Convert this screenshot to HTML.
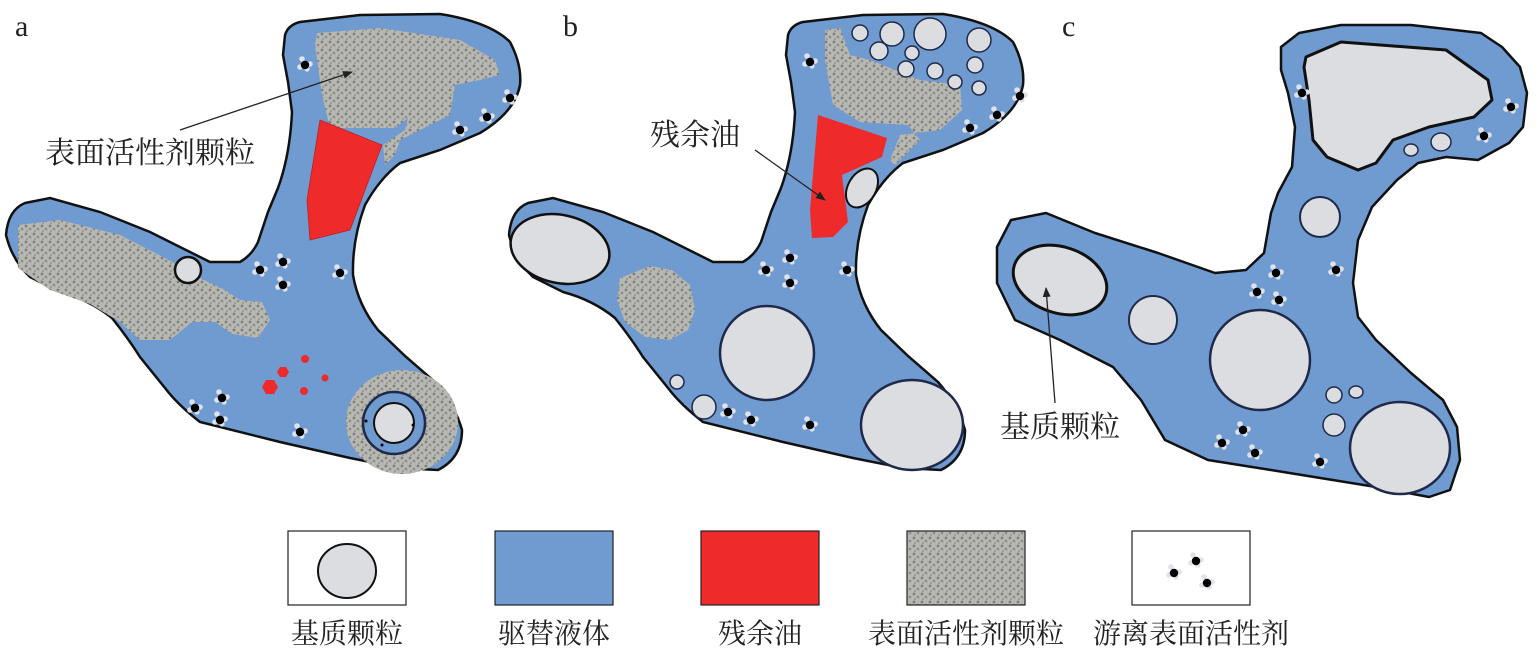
<!DOCTYPE html>
<html><head><meta charset="utf-8"><style>
html,body{margin:0;padding:0;background:#fff;}
svg{display:block;}
text{font-family:"Liberation Serif","Noto Serif CJK SC",serif;fill:#222;}
</style></head><body>
<svg width="1538" height="648" viewBox="0 0 1538 648" xmlns="http://www.w3.org/2000/svg">
<defs>
<pattern id="tex" width="8" height="8" patternUnits="userSpaceOnUse">
<rect width="8" height="8" fill="#b8b8b2"/>
<circle cx="2" cy="2" r="1.4" fill="#7d7d7c"/>
<circle cx="6" cy="5" r="1.3" fill="#8a8a88"/>
<circle cx="3" cy="7" r="0.9" fill="#8a8a88"/>
</pattern>
<path id="pore" d="M285,35 Q288,25 300,22 L360,15 440,14 Q490,22 510,42 Q522,65 520,85 Q515,112 480,133 L440,150 400,163 Q380,178 365,205 Q352,240 353,275 Q358,305 378,330 L405,356 435,382 Q455,405 462,430 Q462,458 438,470 L400,468 350,458 280,442 200,422 Q178,405 165,388 L140,357 Q128,338 112,318 Q90,300 60,292 L30,277 Q12,260 6,235 Q8,210 25,203 L50,198 100,212 150,232 210,262 240,262 Q252,255 258,242 L268,212 278,188 Q290,155 292,112 L288,82 283,55 Z"/>
<g id="fs"><circle cx="-3" cy="-6" r="2.8" fill="#dfe2ea"/><circle cx="5" cy="-1" r="2.8" fill="#dfe2ea"/><circle cx="-5" cy="2" r="2.8" fill="#dfe2ea"/><circle cx="2" cy="4" r="2.6" fill="#dfe2ea"/><circle cx="0" cy="0" r="4.2" fill="#000"/></g>
<marker id="ar" markerWidth="10" markerHeight="8" refX="9" refY="4" orient="auto" markerUnits="userSpaceOnUse"><path d="M0,0 L10,4 L0,8 Z" fill="#222"/></marker>
</defs>

<!-- Panel a -->
<use href="#pore" fill="#6f9bd1" stroke="#111" stroke-width="2.5"/>
<path d="M317,33 L380,28 460,40 495,60 500,75 480,80 455,85 450,115 420,130 400,140 395,155 385,165 383,145 405,130 408,118 395,128 330,128 322,95 315,45 Z" fill="url(#tex)"/>
<path d="M320,120 L382,145 350,230 310,240 307,200 Z" fill="#ee2a2a" stroke="#b22" stroke-width="0.8"/>
<path d="M18,225 L60,220 120,235 165,258 200,278 225,290 240,300 262,302 270,320 258,338 232,334 215,322 192,322 170,340 140,340 120,322 90,304 50,290 18,268 Z" fill="url(#tex)"/>
<circle cx="188" cy="270" r="13" fill="#dcdde1" stroke="#111" stroke-width="2.5"/>
<polygon points="278,387 274,394 266,394 262,387 266,380 274,380" fill="#ee2a2a"/>
<polygon points="289,372 286,377 280,377 277,372 280,367 286,367" fill="#ee2a2a"/>
<circle cx="305" cy="359" r="4" fill="#ee2a2a"/><circle cx="304" cy="391" r="4" fill="#ee2a2a"/><circle cx="325" cy="378" r="3.5" fill="#ee2a2a"/>
<ellipse cx="402" cy="422" rx="56" ry="52" fill="url(#tex)"/>
<circle cx="394" cy="423" r="31" fill="#6f9bd1" stroke="#1f2a4a" stroke-width="2.5"/>
<circle cx="394" cy="423" r="20" fill="#dcdde1" stroke="#111" stroke-width="2"/>
<circle cx="366" cy="421" r="1.5" fill="#000"/><circle cx="413" cy="425" r="1.5" fill="#000"/><circle cx="382" cy="445" r="1.5" fill="#000"/>
<g><use href="#fs" x="305" y="65"/><use href="#fs" x="510" y="98"/><use href="#fs" x="487" y="117"/><use href="#fs" x="460" y="130"/><use href="#fs" x="260" y="270"/><use href="#fs" x="283" y="262"/><use href="#fs" x="283" y="285"/><use href="#fs" x="340" y="273"/><use href="#fs" x="195" y="408"/><use href="#fs" x="222" y="398"/><use href="#fs" x="220" y="420"/><use href="#fs" x="300" y="432"/></g>
<line x1="180" y1="130" x2="352" y2="72" stroke="#222" stroke-width="1.3" marker-end="url(#ar)"/>
<text x="45" y="163" font-size="30">表面活性剂颗粒</text>
<text x="15" y="36" font-size="30">a</text>

<!-- Panel b -->
<use href="#pore" x="503" fill="#6f9bd1" stroke="#111" stroke-width="2.5"/>
<path d="M825,30 L840,28 850,55 870,60 920,80 960,85 962,110 940,130 900,135 890,160 895,165 920,140 908,125 860,122 833,105 825,60 Z" fill="url(#tex)"/>
<g fill="#dcdde1" stroke="#1f2a4a" stroke-width="1.5">
<circle cx="860" cy="33" r="8"/><circle cx="892" cy="34" r="12"/><circle cx="930" cy="34" r="16"/><circle cx="979" cy="40" r="12"/><circle cx="879" cy="51" r="9"/><circle cx="912" cy="53" r="7"/><circle cx="906" cy="69" r="8"/><circle cx="935" cy="71" r="8"/><circle cx="955" cy="82" r="7"/><circle cx="975" cy="65" r="8"/><circle cx="979" cy="88" r="7"/>
</g>
<path d="M818,115 L887,138 882,157 842,175 848,222 833,237 812,238 810,210 Z" fill="#ee2a2a"/>
<ellipse cx="862" cy="188" rx="14" ry="21" transform="rotate(30 862 188)" fill="#dcdde1" stroke="#111" stroke-width="2"/>
<ellipse cx="560" cy="249" rx="50" ry="34" transform="rotate(12 560 249)" fill="#dcdde1" stroke="#111" stroke-width="2.5"/>
<path d="M620,278 L650,266 672,270 690,285 695,310 688,330 670,340 645,337 625,322 617,300 Z" fill="url(#tex)"/>
<circle cx="767" cy="353" r="47" fill="#dcdde1" stroke="#1f2a4a" stroke-width="2.5"/>
<ellipse cx="912" cy="425" rx="51" ry="45" fill="#dcdde1" stroke="#1f2a4a" stroke-width="2.5"/>
<circle cx="677" cy="382" r="7" fill="#dcdde1" stroke="#1f2a4a" stroke-width="1.5"/>
<circle cx="704" cy="407" r="12" fill="#dcdde1" stroke="#1f2a4a" stroke-width="1.5"/>
<g><use href="#fs" x="810" y="62"/><use href="#fs" x="1020" y="96"/><use href="#fs" x="997" y="115"/><use href="#fs" x="970" y="128"/><use href="#fs" x="766" y="270"/><use href="#fs" x="790" y="258"/><use href="#fs" x="790" y="283"/><use href="#fs" x="847" y="270"/><use href="#fs" x="728" y="412"/><use href="#fs" x="751" y="420"/><use href="#fs" x="810" y="425"/></g>
<line x1="755" y1="150" x2="825" y2="200" stroke="#222" stroke-width="1.3" marker-end="url(#ar)"/>
<text x="650" y="145" font-size="30">残余油</text>
<text x="563" y="36" font-size="30">b</text>

<!-- Panel c -->
<path d="M1478,160 L1509,143 1523,127 1527,93 1520,67 1502,47 1481,33 1411,25 1341,25 1299,33 1281,47 1281,70 1288,93 1295,127 1292,167 1278,193 1271,213 1264,253 1246,270 1215,273 1158,253 1095,233 1046,213 1011,220 997,247 997,283 1015,320 1060,340 1113,367 1141,400 1165,440 1208,460 1271,470 1376,487 1429,497 1450,490 1460,460 1457,427 1443,400 1411,373 1376,340 1358,317 1353,283 1358,240 1372,207 1397,180 1418,163 1446,157 Z" fill="#6f9bd1" stroke="#111" stroke-width="2.5" stroke-linejoin="round"/>
<path d="M1306,57 L1341,42 1446,50 1488,80 1492,100 1474,117 1429,127 1393,140 1376,163 1358,170 1327,157 1313,140 1309,100 1304,67 Z" fill="#dcdde1" stroke="#111" stroke-width="3" stroke-linejoin="round"/>
<ellipse cx="1411" cy="150" rx="7" ry="6" fill="#dcdde1" stroke="#1f2a4a" stroke-width="1.5"/>
<ellipse cx="1441" cy="142" rx="10" ry="9" fill="#dcdde1" stroke="#1f2a4a" stroke-width="1.5"/>
<circle cx="1320" cy="217" r="20" fill="#dcdde1" stroke="#1f2a4a" stroke-width="2"/>
<ellipse cx="1060" cy="280" rx="48" ry="33" transform="rotate(18 1060 280)" fill="#dcdde1" stroke="#111" stroke-width="3"/>
<circle cx="1153" cy="320" r="24" fill="#dcdde1" stroke="#1f2a4a" stroke-width="2"/>
<circle cx="1260" cy="360" r="50" fill="#dcdde1" stroke="#1f2a4a" stroke-width="2.5"/>
<circle cx="1334" cy="395" r="8" fill="#dcdde1" stroke="#1f2a4a" stroke-width="1.5"/>
<ellipse cx="1356" cy="392" rx="7" ry="6" fill="#dcdde1" stroke="#1f2a4a" stroke-width="1.5"/>
<circle cx="1334" cy="425" r="11" fill="#dcdde1" stroke="#1f2a4a" stroke-width="1.5"/>
<ellipse cx="1400" cy="448" rx="50" ry="46" fill="#dcdde1" stroke="#1f2a4a" stroke-width="2.5"/>
<g><use href="#fs" x="1302" y="93"/><use href="#fs" x="1511" y="107"/><use href="#fs" x="1484" y="136"/><use href="#fs" x="1276" y="273"/><use href="#fs" x="1257" y="292"/><use href="#fs" x="1279" y="300"/><use href="#fs" x="1336" y="270"/><use href="#fs" x="1222" y="443"/><use href="#fs" x="1243" y="430"/><use href="#fs" x="1255" y="453"/><use href="#fs" x="1320" y="462"/></g>
<line x1="1055" y1="403" x2="1046" y2="288" stroke="#222" stroke-width="1.3" marker-end="url(#ar)"/>
<text x="1000" y="437" font-size="30">基质颗粒</text>
<text x="1062" y="36" font-size="30">c</text>

<!-- Legend -->
<g stroke="#222" stroke-width="1.2">
<rect x="288" y="531" width="118" height="74" fill="#fff"/>
<rect x="495" y="531" width="118" height="74" fill="#6f9bd1"/>
<rect x="701" y="531" width="118" height="74" fill="#ee2a2a"/>
<rect x="907" y="531" width="118" height="74" fill="url(#tex)"/>
<rect x="1132" y="531" width="118" height="74" fill="#fff"/>
</g>
<ellipse cx="347" cy="571" rx="29" ry="27" fill="#dcdde1" stroke="#111" stroke-width="2"/>
<use href="#fs" x="1196" y="561"/><use href="#fs" x="1174" y="573"/><use href="#fs" x="1207" y="583"/>
<g font-size="28" text-anchor="middle">
<text x="347" y="643">基质颗粒</text>
<text x="554" y="643">驱替液体</text>
<text x="760" y="643">残余油</text>
<text x="966" y="643">表面活性剂颗粒</text>
<text x="1191" y="643">游离表面活性剂</text>
</g>
</svg>
</body></html>
